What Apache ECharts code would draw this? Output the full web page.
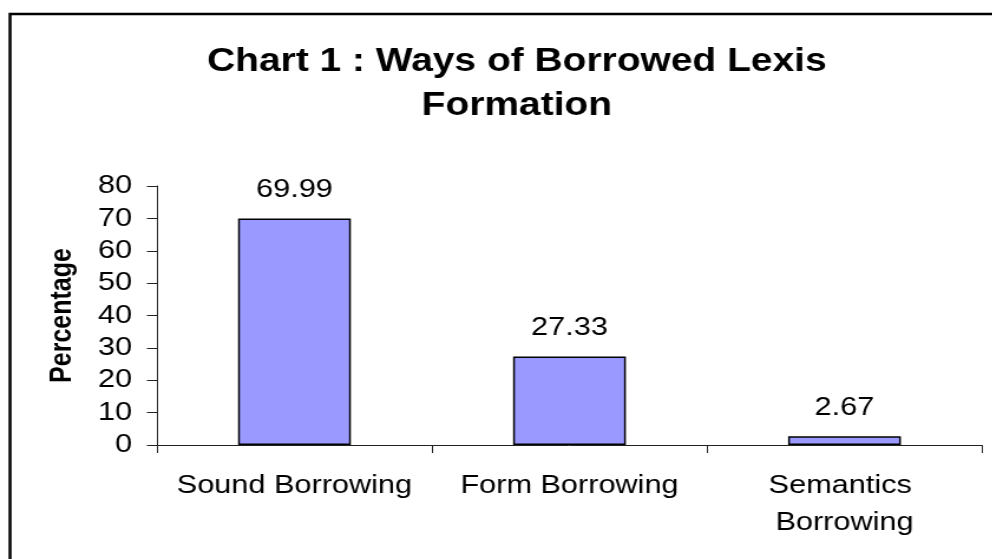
<!DOCTYPE html>
<html>
<head>
<meta charset="utf-8">
<script src="https://cdn.jsdelivr.net/npm/echarts@6/dist/echarts.min.js"></script>
<style>
html,body{margin:0;padding:0;background:#fff;overflow:hidden;width:992px;height:559px;}
#main{width:841px;height:559px;transform:scaleX(1.18);transform-origin:0 0;}
</style>
</head>
<body>
<div id="main"></div>
<script>
// Data
const categories = ['Sound Borrowing', 'Form Borrowing', 'Semantics Borrowing'];
const percentages = [69.99, 27.33, 2.67];
const yTicks = [0, 10, 20, 30, 40, 50, 60, 70, 80];
const titleText = 'Chart 1 : Ways of Borrowed Lexis\nFormation';
const yAxisName = 'Percentage';

const FONT = '"Liberation Sans", Arial, sans-serif';
const chart = echarts.init(document.getElementById('main'), null, {renderer: 'canvas'});
chart.setOption({
  backgroundColor: '#fff',
  animation: false,
  title: {
    text: titleText,
    left: 433,
    top: 35,
    textAlign: 'center',
    textStyle: {fontFamily: FONT, fontSize: 33, fontWeight: 'bold', color: '#000', lineHeight: 44}
  },
  graphic: [{
    type: 'rect',
    shape: {x: 8.5, y: 14, width: 1000, height: 700},
    style: {fill: 'none', stroke: '#000', lineWidth: 2.5},
    silent: true
  }],
  grid: {left: 133, right: 8.8, top: 186, bottom: 114, containLabel: false},
  xAxis: {
    type: 'category',
    data: categories,
    axisLine: {lineStyle: {color: '#222', width: 1}},
    axisTick: {show: true, length: 8, lineStyle: {color: '#222'}},
    axisLabel: {fontFamily: FONT, fontSize: 26, color: '#000', margin: 22, lineHeight: 37, width: 225, overflow: 'break', interval: 0}
  },
  yAxis: {
    type: 'value',
    min: yTicks[0],
    max: yTicks[yTicks.length - 1],
    interval: 10,
    name: yAxisName,
    nameLocation: 'middle',
    nameGap: 67,
    nameTextStyle: {fontFamily: FONT, fontSize: 25, fontWeight: 'bold', color: '#000'},
    axisLine: {show: true, lineStyle: {color: '#222', width: 1}},
    axisTick: {show: true, length: 8.5, lineStyle: {color: '#222'}},
    splitLine: {show: false},
    axisLabel: {fontFamily: FONT, fontSize: 26, color: '#000', margin: 21}
  },
  series: [{
    type: 'bar',
    data: percentages,
    barWidth: '41%',
    itemStyle: {color: '#9999FF', borderColor: '#000', borderWidth: 1.5},
    label: {
      show: true,
      position: 'top',
      distance: 16,
      fontFamily: FONT,
      fontSize: 26,
      color: '#000',
      formatter: p => p.value.toFixed(2)
    }
  }]
});
</script>
</body>
</html>
